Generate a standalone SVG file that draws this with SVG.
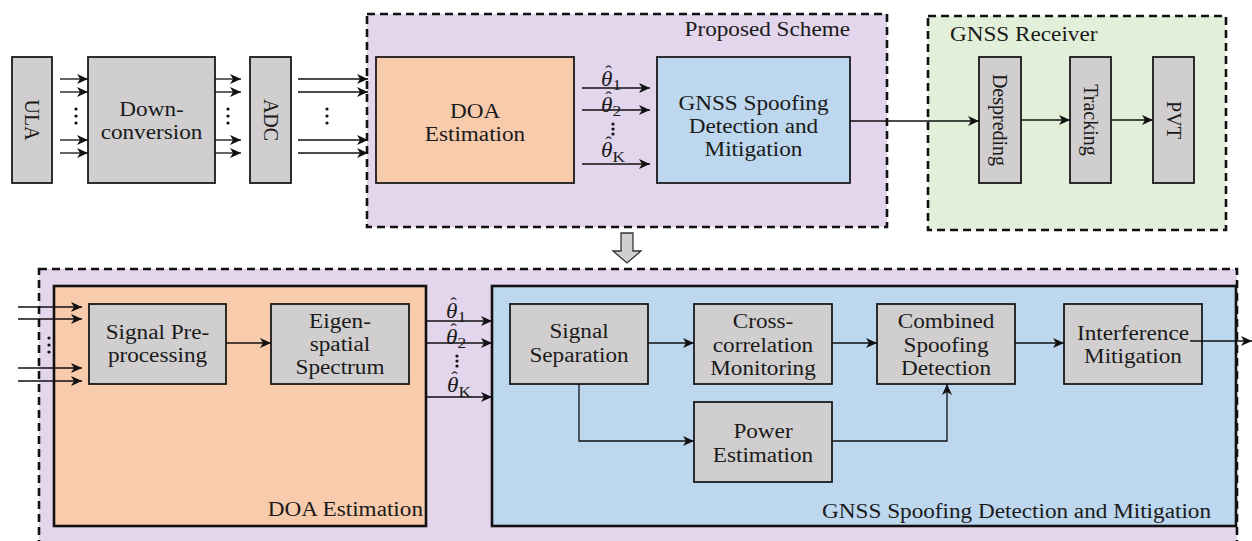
<svg xmlns="http://www.w3.org/2000/svg" width="1252" height="541" viewBox="0 0 1252 541">
<defs>
<marker id="ah" viewBox="0 0 11 10" refX="11" refY="5" markerWidth="11" markerHeight="10" markerUnits="userSpaceOnUse" orient="auto"><path d="M0,0 L11,5 L0,10 L3,5 z" fill="#111"/></marker>
<style>
.box{fill:#d0cece;stroke:#1a1a1a;stroke-width:1.8}
.dash{stroke:#111;stroke-width:2.6;stroke-dasharray:8 5}
.purple{fill:#e2d5ec}
.green{fill:#e2efd9}
.peach{fill:#f8cbad}
.blue{fill:#bdd7ee}
.frame{stroke:#111;stroke-width:2.6}
text{font-family:'Liberation Serif','DejaVu Serif','Noto Serif',serif;font-size:20px;fill:#1a1a1a}
.t{text-anchor:middle}
.te{text-anchor:end}
.ts{text-anchor:start}
.r{text-anchor:middle;dominant-baseline:central}
.m{font-size:20px;font-style:italic}
.hat{font-size:17px;font-style:normal;text-anchor:middle}
.sub{font-size:15px;font-style:normal}
.conn{fill:none;stroke:#111;stroke-width:1.3;marker-end:url(#ah)}
.dot{fill:#111}
</style>
</defs>

<!-- containers -->
<g id="proposed-scheme">
<rect class="purple dash" x="367" y="14" width="520" height="213"/>
<text class="te" transform="matrix(1.16 0 0 1 850 36)">Proposed Scheme</text>
</g>
<g id="gnss-receiver">
<rect class="green dash" x="928" y="16" width="298" height="214"/>
<text class="ts" transform="matrix(1.16 0 0 1 950 41)">GNSS Receiver</text>
</g>
<g id="detail">
<rect class="purple dash" x="39" y="269" width="1198" height="300"/>
</g>
<g id="doa-detail">
<rect class="peach frame" x="54" y="286" width="372" height="240"/>
<text class="te" transform="matrix(1.16 0 0 1 423 516)">DOA Estimation</text>
</g>
<g id="gnss-detail">
<rect class="blue frame" x="492" y="286" width="744" height="240"/>
<text class="te" transform="matrix(1.16 0 0 1 1211 518)">GNSS Spoofing Detection and Mitigation</text>
</g>

<!-- top row nodes -->
<g id="ula">
<rect class="box" x="12" y="57" width="40" height="126"/>
<text class="r" transform="translate(32 120) rotate(90)">ULA</text>
</g>
<g id="downconversion">
<rect class="box" x="88" y="57" width="127" height="126"/>
<text class="t" transform="matrix(1.16 0 0 1 151.5 116)">Down-</text>
<text class="t" transform="matrix(1.16 0 0 1 151.5 139)">conversion</text>
</g>
<g id="adc">
<rect class="box" x="250" y="57" width="41" height="126"/>
<text class="r" transform="translate(270.5 120) rotate(90)">ADC</text>
</g>
<g id="doa">
<rect class="peach" x="376" y="57" width="198" height="126" stroke="#1a1a1a" stroke-width="1.8"/>
<text class="t" transform="matrix(1.16 0 0 1 475 118)">DOA</text>
<text class="t" transform="matrix(1.16 0 0 1 475 141)">Estimation</text>
</g>
<g id="gnss-spoofing">
<rect class="blue" x="657" y="57" width="193" height="126" stroke="#1a1a1a" stroke-width="1.8"/>
<text class="t" transform="matrix(1.16 0 0 1 753.5 110)">GNSS Spoofing</text>
<text class="t" transform="matrix(1.16 0 0 1 753.5 133)">Detection and</text>
<text class="t" transform="matrix(1.16 0 0 1 753.5 156)">Mitigation</text>
</g>
<g id="despreding">
<rect class="box" x="979" y="57" width="42" height="126"/>
<text class="r" transform="translate(1000 120) rotate(90)">Despreding</text>
</g>
<g id="tracking">
<rect class="box" x="1070" y="57" width="41" height="126"/>
<text class="r" transform="translate(1090.5 120) rotate(90)">Tracking</text>
</g>
<g id="pvt">
<rect class="box" x="1153" y="57" width="41" height="126"/>
<text class="r" transform="translate(1173.5 120) rotate(90)">PVT</text>
</g>

<!-- bottom nodes -->
<g id="preprocessing">
<rect class="box" x="89" y="304" width="137" height="80"/>
<text class="t" transform="matrix(1.16 0 0 1 157.5 339)">Signal Pre-</text>
<text class="t" transform="matrix(1.16 0 0 1 157.5 362)">processing</text>
</g>
<g id="eigenspatial">
<rect class="box" x="271" y="304" width="138" height="80"/>
<text class="t" transform="matrix(1.16 0 0 1 340 328)">Eigen-</text>
<text class="t" transform="matrix(1.16 0 0 1 340 351)">spatial</text>
<text class="t" transform="matrix(1.16 0 0 1 340 374)">Spectrum</text>
</g>
<g id="separation">
<rect class="box" x="510" y="304" width="138" height="80"/>
<text class="t" transform="matrix(1.16 0 0 1 579 338)">Signal</text>
<text class="t" transform="matrix(1.16 0 0 1 579 362)">Separation</text>
</g>
<g id="crosscorr">
<rect class="box" x="694" y="304" width="138" height="80"/>
<text class="t" transform="matrix(1.16 0 0 1 763 328)">Cross-</text>
<text class="t" transform="matrix(1.16 0 0 1 763 352)">correlation</text>
<text class="t" transform="matrix(1.16 0 0 1 763 375)">Monitoring</text>
</g>
<g id="combined">
<rect class="box" x="877" y="304" width="138" height="80"/>
<text class="t" transform="matrix(1.16 0 0 1 946 328)">Combined</text>
<text class="t" transform="matrix(1.16 0 0 1 946 352)">Spoofing</text>
<text class="t" transform="matrix(1.16 0 0 1 946 375)">Detection</text>
</g>
<g id="interference">
<rect class="box" x="1064" y="304" width="138" height="80"/>
<text class="t" transform="matrix(1.16 0 0 1 1133 340)">Interference</text>
<text class="t" transform="matrix(1.16 0 0 1 1133 363)">Mitigation</text>
</g>
<g id="power">
<rect class="box" x="694" y="402" width="138" height="80"/>
<text class="t" transform="matrix(1.16 0 0 1 763 438)">Power</text>
<text class="t" transform="matrix(1.16 0 0 1 763 462)">Estimation</text>
</g>

<g id="down-arrow">
<polygon points="621,233 633,233 633,251 641,251 627,263 613,251 621,251" fill="#d0cece" stroke="#333" stroke-width="1.3"/>
</g>

<!-- connectors -->
<g id="connectors">
<path class="conn" d="M60,79H88"/><path class="conn" d="M60,92H88"/><path class="conn" d="M60,140H88"/><path class="conn" d="M60,153H88"/>
<path class="conn" d="M215,79H241"/><path class="conn" d="M215,92H241"/><path class="conn" d="M215,140H241"/><path class="conn" d="M215,153H241"/>
<path class="conn" d="M298,79H368"/><path class="conn" d="M298,92H368"/><path class="conn" d="M298,140H368"/><path class="conn" d="M298,153H368"/>
<path class="conn" d="M582,88H650"/><path class="conn" d="M582,110H650"/><path class="conn" d="M582,164H650"/>
<path class="conn" d="M850,121H979"/>
<path class="conn" d="M1021,120H1070"/>
<path class="conn" d="M1111,120H1153"/>
<path class="conn" d="M18,307H82"/><path class="conn" d="M18,319H82"/><path class="conn" d="M18,368H82"/><path class="conn" d="M18,381H82"/>
<path class="conn" d="M226,343H271"/>
<path class="conn" d="M426,321H492"/><path class="conn" d="M426,343H492"/><path class="conn" d="M426,397H492"/>
<path class="conn" d="M648,343H694"/>
<path class="conn" d="M832,343H877"/>
<path class="conn" d="M1015,343H1064"/>
<path class="conn" d="M1190,341H1252"/>
<path class="conn" d="M579,384V441H694"/>
<path class="conn" d="M832,441H947V384"/>
<g class="dot">
<circle cx="76" cy="109" r="1.6"/><circle cx="76" cy="116" r="1.6"/><circle cx="76" cy="123" r="1.6"/>
<circle cx="228" cy="109" r="1.6"/><circle cx="228" cy="116" r="1.6"/><circle cx="228" cy="123" r="1.6"/>
<circle cx="327" cy="109" r="1.6"/><circle cx="327" cy="116" r="1.6"/><circle cx="327" cy="123" r="1.6"/>
<circle cx="613" cy="124" r="1.6"/><circle cx="613" cy="129" r="1.6"/><circle cx="613" cy="134" r="1.6"/>
<circle cx="49" cy="338" r="1.6"/><circle cx="49" cy="345" r="1.6"/><circle cx="49" cy="352" r="1.6"/>
<circle cx="457" cy="356" r="1.6"/><circle cx="457" cy="361" r="1.6"/><circle cx="457" cy="366" r="1.6"/>
</g>
<g id="theta-labels">
<text class="m" transform="matrix(1.16 0 0 1 601 86)">θ<tspan class="sub" dy="4">1</tspan></text>
<text class="hat" transform="matrix(1.16 0 0 1 608.5 77)">ˆ</text>
<text class="m" transform="matrix(1.16 0 0 1 601 112)">θ<tspan class="sub" dy="4">2</tspan></text>
<text class="hat" transform="matrix(1.16 0 0 1 608.5 103)">ˆ</text>
<text class="m" transform="matrix(1.16 0 0 1 601 157)">θ<tspan class="sub" dy="5">K</tspan></text>
<text class="hat" transform="matrix(1.16 0 0 1 608.5 148)">ˆ</text>
<text class="m" transform="matrix(1.16 0 0 1 446 318)">θ<tspan class="sub" dy="4">1</tspan></text>
<text class="hat" transform="matrix(1.16 0 0 1 453.5 309)">ˆ</text>
<text class="m" transform="matrix(1.16 0 0 1 446 344)">θ<tspan class="sub" dy="4">2</tspan></text>
<text class="hat" transform="matrix(1.16 0 0 1 453.5 335)">ˆ</text>
<text class="m" transform="matrix(1.16 0 0 1 447 392)">θ<tspan class="sub" dy="5">K</tspan></text>
<text class="hat" transform="matrix(1.16 0 0 1 454.5 383)">ˆ</text>
</g>
</g>
</svg>
